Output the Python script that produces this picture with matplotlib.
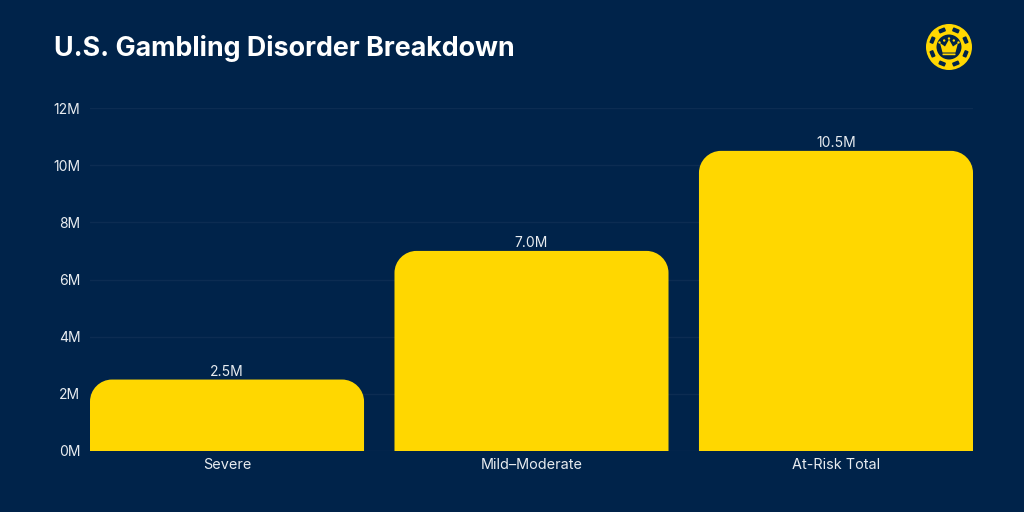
import numpy as np
import matplotlib
matplotlib.use('Agg')
import matplotlib.pyplot as plt
from matplotlib.path import Path
from matplotlib.patches import PathPatch, Circle, Polygon, FancyBboxPatch
from matplotlib.transforms import Affine2D

categories = ['Severe', 'Mild\u2013Moderate', 'At-Risk Total']
values = [2.5, 7.0, 10.5]
value_labels = ['2.5M', '7.0M', '10.5M']
y_ticks = [0, 2, 4, 6, 8, 10, 12]
y_tick_labels = ['0M', '2M', '4M', '6M', '8M', '10M', '12M']

BG = '#00234A'
YELLOW = '#FFD700'
TEXT = '#E8ECF0'
GRID = '#0C2C52'

plt.rcParams['font.family'] = ['Inter', 'DejaVu Sans']

W, H = 1024, 512
fig = plt.figure(figsize=(W / 100, H / 100), dpi=100, facecolor=BG)

# axes box in pixels: bars start at the left edge, 0 at y=451, 12M at y=108
left, right, top, bottom = 90, 973, 108, 451
ax = fig.add_axes([left / W, 1 - bottom / H, (right - left) / W, (bottom - top) / H])
ax.set_facecolor(BG)
ax.set_xlim(-0.45, 2.45)
ax.set_ylim(0, 12)
for s in ax.spines.values():
    s.set_visible(False)
ax.set_axisbelow(True)
ax.yaxis.grid(True, color=GRID, lw=1)
ax.set_yticks(y_ticks)
ax.set_yticklabels(y_tick_labels, color=TEXT, fontsize=10)
ax.set_xticks(range(len(categories)))
ax.set_xticklabels(categories, color=TEXT, fontsize=10.4)
ax.tick_params(axis='both', length=0)
ax.tick_params(axis='y', pad=7)
ax.tick_params(axis='x', pad=5)


def rounded_top(x0, x1, h, rx, ry):
    k = 0.45
    verts = [(x0, 0), (x0, h - ry),
             (x0, h - ry * k), (x0 + rx * k, h), (x0 + rx, h),
             (x1 - rx, h),
             (x1 - rx * k, h), (x1, h - ry * k), (x1, h - ry),
             (x1, 0), (x0, 0)]
    codes = [Path.MOVETO, Path.LINETO,
             Path.CURVE4, Path.CURVE4, Path.CURVE4,
             Path.LINETO,
             Path.CURVE4, Path.CURVE4, Path.CURVE4,
             Path.LINETO, Path.CLOSEPOLY]
    return Path(verts, codes)


# corner radius is about 22px, converted to data units per axis
rx = 22 * 2.9 / (right - left)
ry = 22 * 12 / (bottom - top)
for i, v in enumerate(values):
    ax.add_patch(PathPatch(rounded_top(i - 0.45, i + 0.45, v, rx, ry),
                           facecolor=YELLOW, edgecolor='none', zorder=3))
    ax.text(i, v + 0.03, value_labels[i], ha='center', va='bottom',
            color=TEXT, fontsize=10)

fig.text(54 / W, 1 - 49 / H, 'U.S. Gambling Disorder Breakdown', color='white',
         fontsize=19.35, fontweight='bold', ha='left', va='center')

# logo chip with crown, in its own small axes
lg = fig.add_axes([(949 - 26) / W, 1 - (47 + 26) / H, 52 / W, 52 / H])
lg.set_xlim(-26, 26)
lg.set_ylim(-26, 26)
lg.axis('off')
lg.add_patch(Circle((0, 0), 23, color=YELLOW, lw=0))
for a in np.arange(22.5, 360, 45):
    lg.add_patch(FancyBboxPatch((-3.5, 15.8), 7, 4.2, boxstyle='round,pad=0,rounding_size=1',
                                color=BG, lw=0,
                                transform=Affine2D().rotate_deg(a) + lg.transData))
lg.add_patch(Circle((0, 0), 12.5, color=BG, lw=0))
crown = [(-6.5, -5.5), (6.5, -5.5), (9, 4), (4, 0.5), (0, 7.5), (-4, 0.5), (-9, 4)]
lg.add_patch(Polygon(crown, closed=True, color=YELLOW, lw=0))
for cx, cy in [(-9.5, 4.5), (-4.8, 6.5), (0, 8.5), (4.8, 6.5), (9.5, 4.5)]:
    lg.add_patch(Circle((cx, cy), 1.2, color=YELLOW, lw=0))
lg.add_patch(FancyBboxPatch((-6.5, -8.2), 13, 1.7, boxstyle='round,pad=0,rounding_size=0.5',
                            color=YELLOW, lw=0))

fig.savefig('out.png', dpi=100, facecolor=BG)
